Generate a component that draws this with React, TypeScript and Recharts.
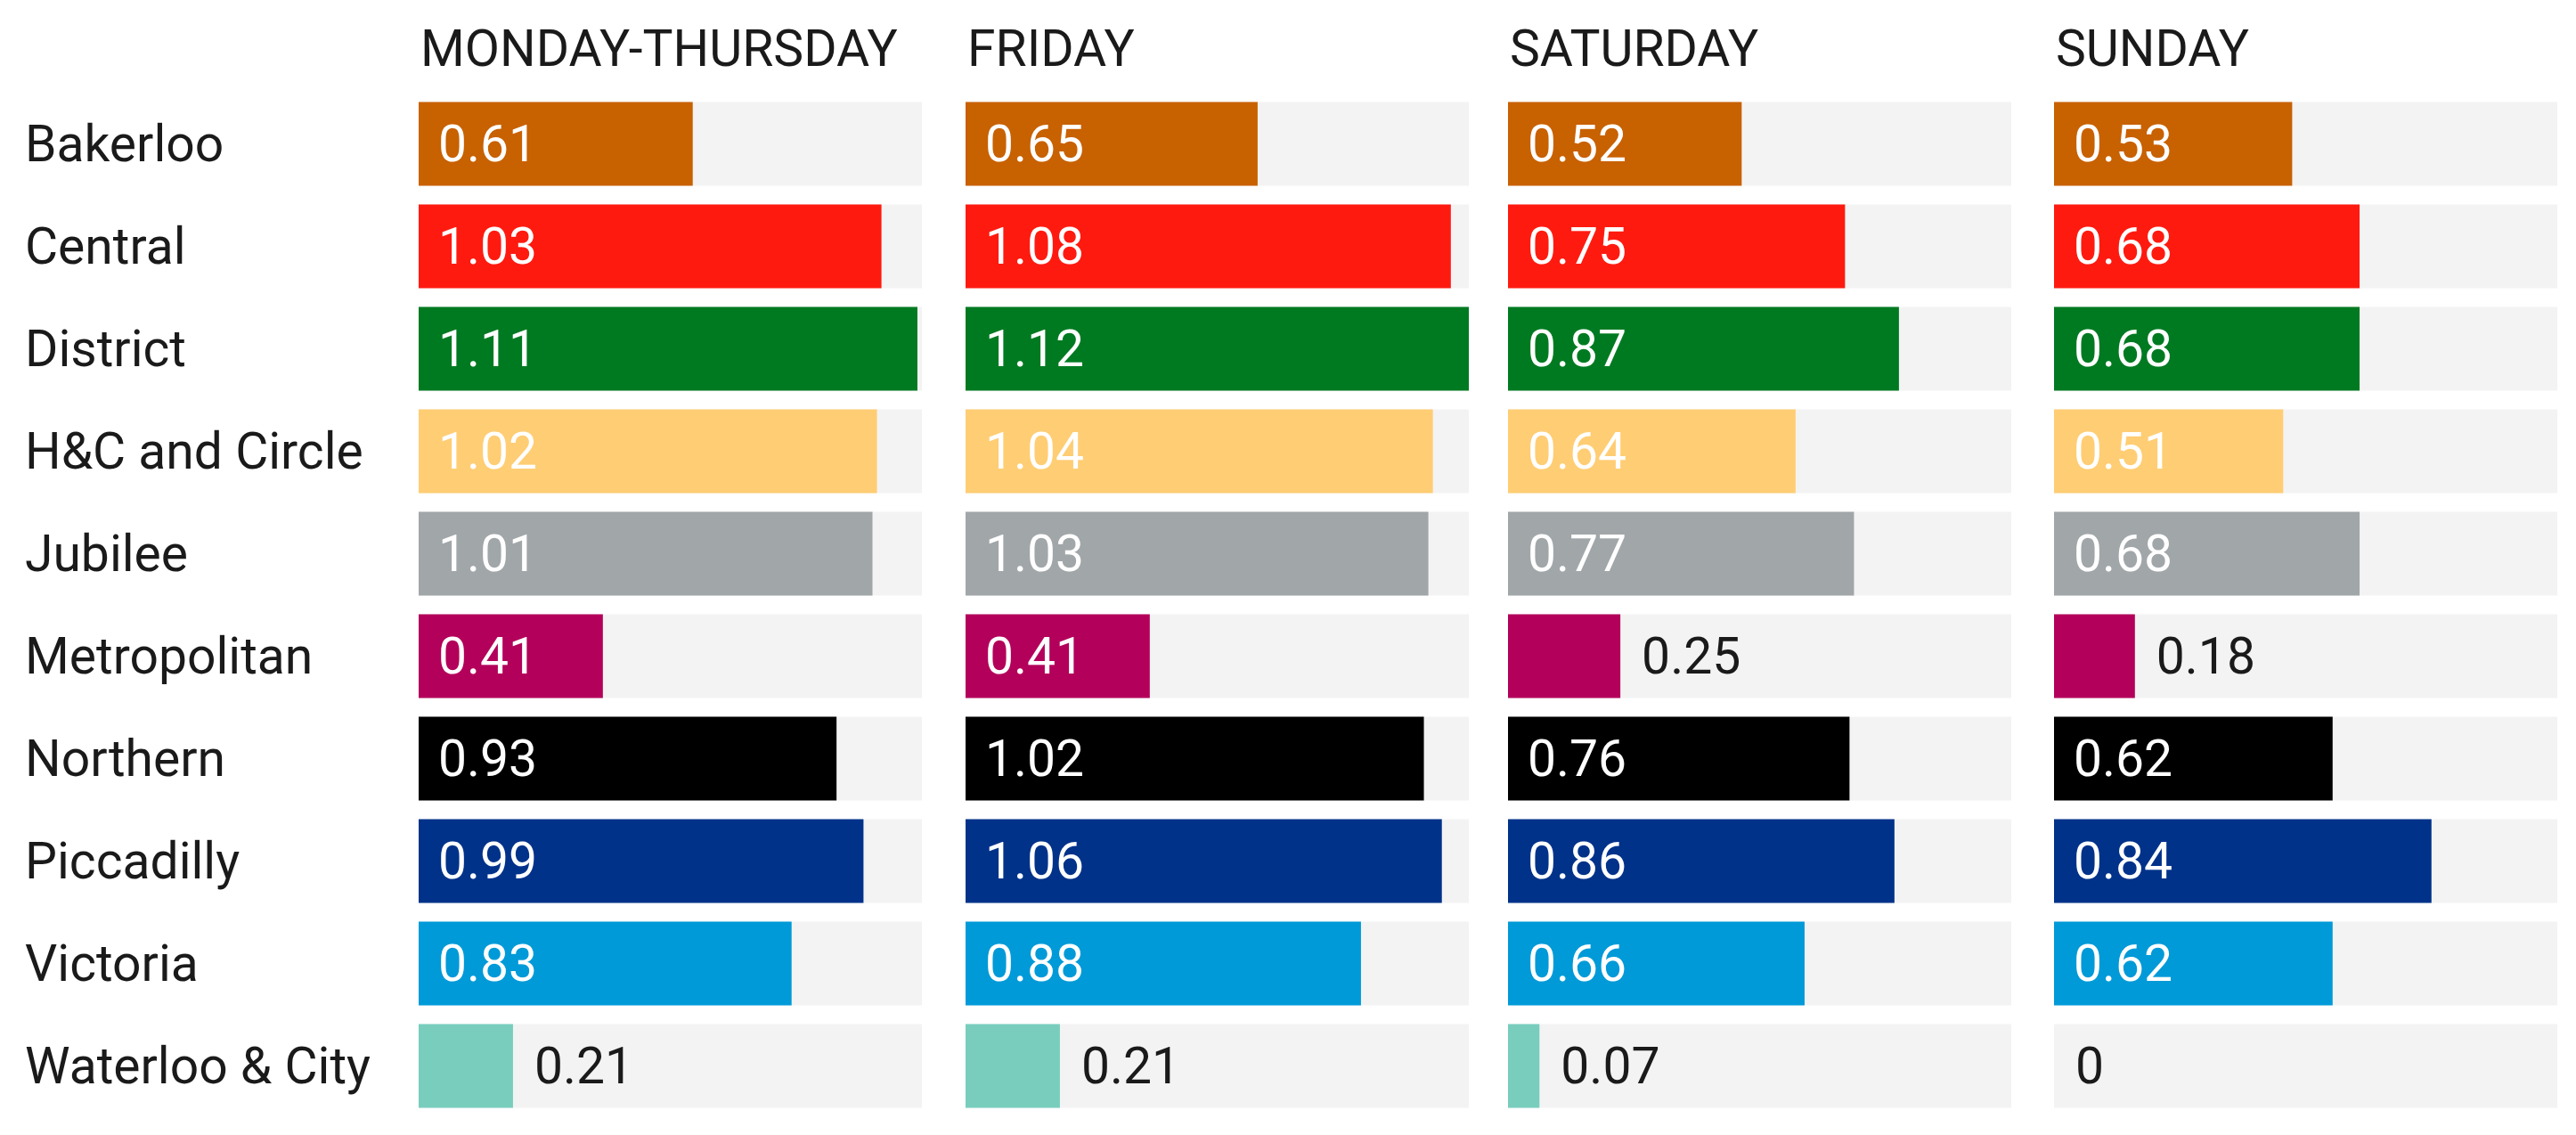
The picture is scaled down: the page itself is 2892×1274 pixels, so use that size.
import { BarChart, Bar, XAxis, YAxis, Cell, LabelList } from "recharts";

const FONT = "Roboto, 'Noto Sans', sans-serif";
const TEXT = "#1a1a1a";
const TRACK = "#f3f3f3";
const FONT_SIZE = 57;

const LINES = [
  "Bakerloo",
  "Central",
  "District",
  "H&C and Circle",
  "Jubilee",
  "Metropolitan",
  "Northern",
  "Piccadilly",
  "Victoria",
  "Waterloo & City",
];
const LINE_COLORS = [
  "#c86100",
  "#ff1a10",
  "#007a21",
  "#ffcd73",
  "#a1a6a9",
  "#b3005b",
  "#000000",
  "#00328a",
  "#009ad8",
  "#78cdbd",
];

const DAYS = ["MONDAY-THURSDAY", "FRIDAY", "SATURDAY", "SUNDAY"];
const MON_THU = [0.61, 1.03, 1.11, 1.02, 1.01, 0.41, 0.93, 0.99, 0.83, 0.21];
const FRIDAY = [0.65, 1.08, 1.12, 1.04, 1.03, 0.41, 1.02, 1.06, 0.88, 0.21];
const SATURDAY = [0.52, 0.75, 0.87, 0.64, 0.77, 0.25, 0.76, 0.86, 0.66, 0.07];
const SUNDAY = [0.53, 0.68, 0.68, 0.51, 0.68, 0.18, 0.62, 0.84, 0.62, 0];
const SERIES = [MON_THU, FRIDAY, SATURDAY, SUNDAY];

const MAX = 1.12;
const PANEL_X = [470, 1084, 1693, 2306];
const PANEL_W = 565;
const NAME_W = 470;

function renderName(props: any) {
  const { y, payload } = props;
  return (
    <text x={28} y={y} dy="0.35em" fill={TEXT} fontSize={FONT_SIZE} fontFamily={FONT} textAnchor="start">
      {payload.value}
    </text>
  );
}

// label sits on an invisible full-width bar, so zero values still get one
function renderValue(props: any) {
  const { x, y, width, height, value } = props;
  const len = (width * value) / MAX;
  const inside = value >= 0.3;
  return (
    <text
      x={inside ? x + 22 : x + len + 24}
      y={y + height / 2}
      dy="0.35em"
      fill={inside ? "#ffffff" : TEXT}
      fontSize={FONT_SIZE}
      fontFamily={FONT}
      textAnchor="start"
    >
      {String(value)}
    </text>
  );
}

function Panel({ idx }: { idx: number }) {
  const showNames = idx === 0;
  const data = LINES.map((name, i) => ({ name, value: SERIES[idx][i], track: MAX }));
  const width = showNames ? NAME_W + PANEL_W : PANEL_W;
  const left = showNames ? 0 : PANEL_X[idx];
  return (
    <>
      <div
        style={{
          position: "absolute",
          left: PANEL_X[idx] + 2,
          top: 22,
          fontFamily: FONT,
          fontSize: FONT_SIZE,
          color: TEXT,
          lineHeight: "66px",
          whiteSpace: "nowrap",
        }}
      >
        {DAYS[idx]}
      </div>
      <div style={{ position: "absolute", left, top: 0 }}>
        <BarChart
          width={width}
          height={1274}
          data={data}
          layout="vertical"
          margin={{ top: 103.5, bottom: 20.5, left: 0, right: 0 }}
        >
          <XAxis type="number" domain={[0, MAX]} hide />
          <YAxis
            yAxisId="track"
            type="category"
            dataKey="name"
            width={NAME_W}
            hide={!showNames}
            axisLine={false}
            tickLine={false}
            tick={renderName}
            interval={0}
          />
          <YAxis yAxisId="value" type="category" dataKey="name" hide />
          <YAxis yAxisId="label" type="category" dataKey="name" hide />
          <Bar yAxisId="track" dataKey="track" barSize={94} fill={TRACK} isAnimationActive={false} />
          <Bar yAxisId="value" dataKey="value" barSize={94} isAnimationActive={false}>
            {data.map((_, i) => (
              <Cell key={i} fill={LINE_COLORS[i]} />
            ))}
          </Bar>
          <Bar yAxisId="label" dataKey="track" barSize={94} fill="none" isAnimationActive={false}>
            <LabelList dataKey="value" content={renderValue} />
          </Bar>
        </BarChart>
      </div>
    </>
  );
}

export default function App() {
  return (
    <div
      style={{
        position: "absolute",
        left: 0,
        top: 0,
        width: 2892,
        height: 1274,
        background: "#ffffff",
        fontFamily: FONT,
      }}
    >
      {DAYS.map((_, i) => (
        <Panel key={i} idx={i} />
      ))}
    </div>
  );
}
